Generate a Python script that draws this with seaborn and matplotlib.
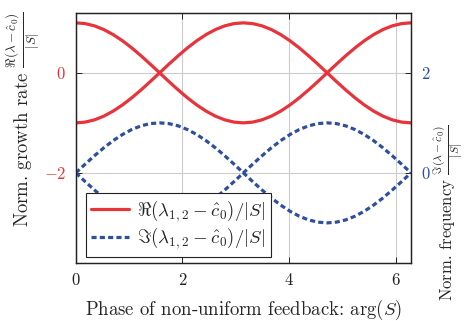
import matplotlib
matplotlib.use("Agg")
import matplotlib.pyplot as plt
import seaborn as sns
import pandas as pd
from matplotlib.lines import Line2D

phase = [0.0, 0.175, 0.349, 0.524, 0.698, 0.873, 1.047, 1.222, 1.396, 1.571, 1.745, 1.920,
         2.094, 2.269, 2.443, 2.618, 2.793, 2.967, 3.142, 3.316, 3.491, 3.665, 3.840, 4.014,
         4.189, 4.363, 4.538, 4.712, 4.887, 5.061, 5.236, 5.411, 5.585, 5.760, 5.934, 6.109, 6.283]
re_upper = [1.0, 0.985, 0.940, 0.866, 0.766, 0.643, 0.5, 0.342, 0.174, 0.0, -0.174, -0.342,
            -0.5, -0.643, -0.766, -0.866, -0.940, -0.985, -1.0, -0.985, -0.940, -0.866, -0.766, -0.643,
            -0.5, -0.342, -0.174, 0.0, 0.174, 0.342, 0.5, 0.643, 0.766, 0.866, 0.940, 0.985, 1.0]
re_lower = [-v for v in re_upper]
im_upper = [0.0, 0.174, 0.342, 0.5, 0.643, 0.766, 0.866, 0.940, 0.985, 1.0, 0.985, 0.940,
            0.866, 0.766, 0.643, 0.5, 0.342, 0.174, 0.0, -0.174, -0.342, -0.5, -0.643, -0.766,
            -0.866, -0.940, -0.985, -1.0, -0.985, -0.940, -0.866, -0.766, -0.643, -0.5, -0.342, -0.174, 0.0]
im_lower = [-v for v in im_upper]

x_ticks = [0, 2, 4, 6]
left_ticks = [-2, 0]
right_ticks = [0, 2]

sns.set_theme(style="white")
plt.rcParams["font.family"] = ["cmr10", "DejaVu Serif"]
plt.rcParams["mathtext.fontset"] = "cm"
plt.rcParams["axes.formatter.use_mathtext"] = True
plt.rcParams["axes.unicode_minus"] = True

RED = "#e8333b"
BLUE = "#2f4ea0"
DASH = [1.6, 1.0]
LBL = 13.5
TCK = 12

fig = plt.figure(figsize=(4.68, 3.21), dpi=100)
ax = fig.add_axes([0.162, 0.181, 0.716, 0.779])
ax2 = ax.twinx()

df_re = pd.DataFrame({"x": phase + phase,
                      "y": re_upper + re_lower,
                      "branch": ["a"] * len(phase) + ["b"] * len(phase)})
df_im = pd.DataFrame({"x": phase + phase,
                      "y": im_upper + im_lower,
                      "branch": ["a"] * len(phase) + ["b"] * len(phase)})

sns.lineplot(data=df_re, x="x", y="y", units="branch", estimator=None, ax=ax,
             color=RED, lw=2.3, legend=False, sort=False)
sns.lineplot(data=df_im, x="x", y="y", units="branch", estimator=None, ax=ax2,
             color=BLUE, lw=2.3, legend=False, sort=False, dashes=False)
for ln in ax2.get_lines():
    ln.set_dashes(DASH)

ax.set_xlim(0, 6.283)
ax.set_ylim(-3.8, 1.2)
ax2.set_ylim(-1.8, 3.2)
ax.set_xticks(x_ticks)
ax.set_yticks(left_ticks)
ax2.set_yticks(right_ticks)
ax.set_xticklabels([str(t) for t in x_ticks])
ax.set_yticklabels(["$-2$", "$0$"])
ax2.set_yticklabels(["$0$", "$2$"])

ax.grid(True, color="#cccccc", lw=0.8)
ax.set_axisbelow(True)

for a in (ax, ax2):
    for s in a.spines.values():
        s.set_color("#222222")
        s.set_linewidth(0.9)

ax.tick_params(axis="x", direction="in", top=True, bottom=True, length=4, width=0.7,
               labelsize=TCK, colors="#222222", pad=7)
ax.tick_params(axis="y", direction="in", left=True, length=4, width=0.7,
               labelsize=TCK, labelcolor=RED, pad=7)
ax2.tick_params(axis="y", direction="in", right=True, length=4, width=0.7,
                labelsize=TCK, labelcolor=BLUE, pad=7)

ax.set_xlabel(r"Phase of non-uniform feedback: $\arg(S)$", fontsize=LBL)
ax.xaxis.set_label_coords(0.5, -0.14)
ax.set_ylabel(r"Norm. growth rate $\frac{\Re(\lambda-\hat{c}_0)}{|S|}$", fontsize=LBL)
ax.yaxis.set_label_coords(-0.10, 0.575)
ax2.set_ylabel(r"Norm. frequency $\frac{\Im(\lambda-\hat{c}_0)}{|S|}$", fontsize=12,
               rotation=90)
ax2.yaxis.set_label_coords(1.062, 0.2)

handles = [Line2D([], [], color=RED, lw=2.3),
           Line2D([], [], color=BLUE, lw=2.3, dashes=DASH)]
labels = [r"$\Re(\lambda_{1,2}-\hat{c}_0)/|S|$", r"$\Im(\lambda_{1,2}-\hat{c}_0)/|S|$"]
leg = ax2.legend(handles, labels, loc="lower left", bbox_to_anchor=(0.03, 0.024),
                 borderaxespad=0, fontsize=13.5, frameon=True, fancybox=False, framealpha=1,
                 edgecolor="#222222", handlelength=2.0, borderpad=0.3,
                 labelspacing=0.1, handletextpad=0.45)
leg.get_frame().set_linewidth(0.8)

fig.savefig("out.png", dpi=100)
